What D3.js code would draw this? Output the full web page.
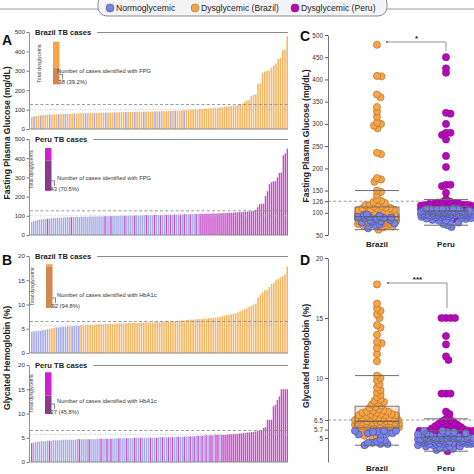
<!DOCTYPE html>
<html><head><meta charset="utf-8">
<script src="https://cdn.jsdelivr.net/npm/d3@7"></script>
<style>body{margin:0;background:#fff}svg{display:block;font-family:Arial,"Liberation Sans",sans-serif}</style>
</head><body><svg id="c" width="474" height="474"></svg>
<script>
// ---------------- DATA ----------------
const legendLabels = ["Normoglycemic", "Dysglycemic (Brazil)", "Dysglycemic (Peru)"];
const countryLabels = ["Brazil", "Peru"];

// Brazil fasting plasma glucose (mg/dL), sorted ascending
const brazilFPG = [62,65,67,69,70,71,72,73,74,75, 75,76,76,77,77,78,78,79,79,80,
  80,80,81,81,81,82,82,82,83,83, 83,84,84,84,85,85,85,86,86,86,
  87,87,87,88,88,88,88,89,89,89, 89,90,90,90,90,91,91,91,92,92,
  92,93,93,94,94,95,95,96,96,97, 97,98,99,100,101,102,103,104,105,106,
  107,108,109,110,111,112,114,115,117,118, 120,122,124,
  127,130,140,147,150,170,175,178,232,235,290,296,300,303,316,328,338,360,366,407,408,478];
const brazilFPGNormoIdx = [1,4,8,12,15,19,24,28,33,37,42,46,50,55,57,62,64,68];

// Peru fasting plasma glucose (mg/dL), sorted ascending
const peruFPG = [68,72,75,78,80,82,83,84,85,86, 87,88,89,90,90,91,91,92,92,93,
  93,93,94,94,94,95,95,95,95,96, 96,96,96,97,97,97,97,98,98,98,
  98,99,99,99,99,100,100,100,100,101, 101,101,101,102,102,102,102,103,103,103,
  103,103,104,104,104,104,105,105,105,105, 106,106,106,106,107,107,107,108,108,108,
  108,109,109,109,110,110,110,110,111,111, 111,112,112,112,113,113,114,114,115,115,
  116,116,117,118,118,119,120,120,121,122, 123,124,125,
  130,145,160,163,163,203,228,265,275,280,280,300,323,325,415,425,450];
const peruFPGDysIdxLow = [8,20,37,40,47,52,58,62,65,68,70,72,75,77,80,83]; // plus all from 85 on
const peruFPGDysFrom = 85;

// Brazil HbA1c (%), sorted ascending
const brazilA1c = [4.4,4.5,4.5,4.6,4.6,4.7,4.8,4.9,5.0,5.1,5.2,5.3,5.3,5.4,5.4,5.4,5.5,5.5,5.5,5.6,5.6,5.6,
  5.7,5.7,5.7,5.8,5.8,5.8,5.8,5.9,5.9,5.9, 5.9,6.0,6.0,6.0,6.0,6.0,6.1,6.1,6.1,6.1,
  6.1,6.2,6.2,6.2,6.2,6.2,6.2,6.3,6.3,6.3, 6.3,6.3,6.3,6.4,6.4,6.4,6.4,6.5,6.5,6.5,
  6.5,6.6,6.6,6.6,6.7,6.7,6.7,6.8,6.8,6.9, 6.9,6.9,7.0,7.0,7.0,7.1,7.1,7.2,7.2,7.3,
  7.3,7.4,7.5,7.6,7.7,7.8,7.9,8.0,8.1,8.2, 8.4,8.6,8.8,9.0,9.2,9.5,9.8,10.0,
  10.2,11.4,12.0,12.5,12.9,13.0,13.6,14.2,14.4,15.0,15.3,15.6,15.8,16.2,17.8];
const brazilA1cDysLowIdx = [8,9,10,17]; // dysglycemic with HbA1c < 5.7
const brazilA1cNormoCount = 22;

// Peru HbA1c (%), sorted ascending
const peruA1c = [3.9,4.0,4.1,4.2,4.2,4.3,4.3,4.3,4.4,4.4, 4.4,4.5,4.5,4.5,4.5,4.5,4.6,4.6,4.6,4.6,
  4.6,4.6,4.6,4.7,4.7,4.7,4.7,4.7,4.7,4.7, 4.7,4.7,4.7,4.8,4.8,4.8,4.8,4.8,4.8,4.8,
  4.8,4.8,4.9,4.9,4.9,4.9,4.9,4.9,4.9,4.9, 4.9,4.9,5.0,5.0,5.0,5.0,5.0,5.0,5.0,5.0,
  5.0,5.0,5.0,5.0,5.1,5.1,5.1,5.1,5.1,5.1, 5.1,5.1,5.2,5.2,5.2,5.2,5.2,5.2,5.3,5.3,
  5.3,5.3,5.3,5.4,5.4,5.4,5.4,5.5,5.5,5.5, 5.5,5.5,5.6,5.6,5.6,5.6,5.6,5.6,5.6,5.7,
  5.7,5.7,5.8,5.8,5.8,5.9,5.9,6.0,6.0,6.1, 6.1,6.2,6.2,6.3,6.4,6.5,
  6.6,7.0,7.2,8.7,8.7,8.7,11.5,11.8,12.8,13.5,15,15,15,15];
const peruA1cDysLowIdx = [0,9,24,29,35,38,40,44,48,52,55,60,63,66,69,71,74,77,80,82,84,86,88,90,91,93,94,96,97,98];
const peruA1cDysFrom = 99;

// Inset summary bars
const insetTotals = {brazil: 97, peru: 61};
const insetFPG = {brazil: [38, "38 (39.2%)"], peru: [43, "43 (70.5%)"]};
const insetA1c = {brazil: [92, "92 (94.8%)"], peru: [27, "27 (45.8%)"]};

const fpgTicks = [0,100,200,300,400,500];
const a1cTicks = [0,5,10,15,20];
const fpgTicksC = [50,100,126,150,200,250,300,350,400,450,500];
const a1cTicksD = [5,5.7,6.5,10,15,20];

// ---------------- COLOURS ----------------
const col = {
  normoBar: "#a6abe9", brazilBar: "#f6b867", peruBar: "#c94ccb",
  normoDot: "#7b84e2", normoStroke: "#3f47a6",
  brazilDot: "#f5a446", brazilStroke: "#b06c28",
  peruDot: "#b30cb6", peruStroke: "#8c008e",
  insetBzTop: "#f5a445", insetBzBot: "#d4864f",
  insetPeTop: "#d21fd4", insetPeBot: "#8a3b8c"
};

// ---------------- BUILD GROUP FLAGS ----------------
const bzFPGd = brazilFPG.map((v,i)=>({v, g: brazilFPGNormoIdx.includes(i) ? "n" : "b"}));
const peFPGd = peruFPG.map((v,i)=>({v, g: (i>=peruFPGDysFrom || peruFPGDysIdxLow.includes(i)) ? "p" : "n"}));
const bzA1cd = brazilA1c.map((v,i)=>({v, g: (i<brazilA1cNormoCount && !brazilA1cDysLowIdx.includes(i)) ? "n" : "b"}));
const peA1cd = peruA1c.map((v,i)=>({v, g: (i>=peruA1cDysFrom || peruA1cDysLowIdx.includes(i)) ? "p" : "n"}));

const svg = d3.select("#c");
const FONT = 'Arial,"Liberation Sans",sans-serif';

// ---------------- LEGEND ----------------
svg.append("line").attr("x1",0).attr("x2",98).attr("y1",9).attr("y2",9).attr("stroke","#9a9a9a").attr("stroke-width",1);
svg.append("line").attr("x1",387).attr("x2",474).attr("y1",9).attr("y2",9).attr("stroke","#9a9a9a").attr("stroke-width",1);
svg.append("rect").attr("x",98).attr("y",-6).attr("width",289).attr("height",22).attr("rx",9)
  .attr("fill","#f4f4f6").attr("stroke","#8a8a8a").attr("stroke-width",1);
const legItems = [
  {x:110, fill:col.normoDot, stroke:col.normoStroke},
  {x:195, fill:col.brazilDot, stroke:col.brazilStroke},
  {x:295, fill:col.peruDot, stroke:col.peruStroke}];
legItems.forEach((d,i)=>{
  svg.append("circle").attr("cx",d.x).attr("cy",8).attr("r",4).attr("fill",d.fill).attr("stroke",d.stroke).attr("stroke-width",0.6);
  svg.append("text").attr("x",d.x+6).attr("y",11).attr("font-size",8.6).attr("fill","#222").text(legendLabels[i]);
});

// ---------------- PANEL A/B BAR CHARTS ----------------
const barX0 = 30, barX1 = 288;
const subplots = [
  {data:bzFPGd, top:32, bottom:129, dom:[0,500], ticks:fpgTicks, title:"Brazil TB cases", th1:126, th2:100,
   ins:{x:53, lo:230, hi:450, total:insetTotals.brazil, id:insetFPG.brazil, top:col.insetBzTop, bot:col.insetBzBot}, lab:"Number of cases identified with FPG"},
  {data:peFPGd, top:139, bottom:235, dom:[0,500], ticks:fpgTicks, title:"Peru TB cases", th1:126, th2:100,
   ins:{x:45, lo:230, hi:453, total:insetTotals.peru, id:insetFPG.peru, top:col.insetPeTop, bot:col.insetPeBot}, lab:"Number of cases identified with FPG"},
  {data:bzA1cd, top:256, bottom:353, dom:[0,20], ticks:a1cTicks, title:"Brazil TB cases", th1:6.5, th2:5.7,
   ins:{x:46, lo:9.3, hi:18.3, total:insetTotals.brazil, id:insetA1c.brazil, top:col.insetBzTop, bot:col.insetBzBot}, lab:"Number of cases identified with HbA1c"},
  {data:peA1cd, top:365, bottom:462, dom:[0,20], ticks:a1cTicks, title:"Peru TB cases", th1:6.5, th2:5.7,
   ins:{x:45, lo:9.9, hi:18.5, total:insetTotals.peru, id:insetA1c.peru, top:col.insetPeTop, bot:col.insetPeBot}, lab:"Number of cases identified with HbA1c"}
];
const barColor = g => g==="n" ? col.normoBar : g==="b" ? col.brazilBar : col.peruBar;

subplots.forEach(sp=>{
  const g = svg.append("g");
  const y = d3.scaleLinear().domain(sp.dom).range([sp.bottom, sp.top]);
  const x = d3.scaleBand().domain(d3.range(sp.data.length)).range([barX0+1, barX1]).paddingInner(0.28);
  g.selectAll("rect.bar").data(sp.data).join("rect").attr("class","bar")
    .attr("x",(d,i)=>x(i)).attr("width",x.bandwidth())
    .attr("y",d=>y(d.v)).attr("height",d=>y(sp.dom[0])-y(d.v))
    .attr("fill",d=>barColor(d.g));
  g.append("line").attr("x1",barX0).attr("x2",barX1).attr("y1",y(sp.th1)).attr("y2",y(sp.th1))
    .attr("stroke","#8d8d8d").attr("stroke-width",0.9).attr("stroke-dasharray","3,2.2");
  g.append("line").attr("x1",barX0).attr("x2",barX1).attr("y1",y(sp.th2)).attr("y2",y(sp.th2))
    .attr("stroke","#b5b5b5").attr("stroke-width",0.8).attr("stroke-dasharray","1,1.5");
  g.append("line").attr("x1",barX0).attr("x2",barX1).attr("y1",y(0)).attr("y2",y(0)).attr("stroke","#8a8a8a").attr("stroke-width",1);
  const ax = g.append("g").attr("transform",`translate(${barX0-1},0)`)
    .call(d3.axisLeft(y).tickValues(sp.ticks).tickSize(2.5).tickSizeOuter(0).tickPadding(1.5));
  ax.select(".domain").attr("stroke","#777").attr("stroke-width",0.8);
  ax.selectAll(".tick line").attr("stroke","#555").attr("stroke-width",0.8);
  ax.selectAll("text").attr("font-size",6.2).attr("fill","#333").attr("font-family",FONT);
  const t = g.append("text").attr("x",35).attr("y",sp.top+3).attr("font-size",7.6).attr("font-weight","bold")
    .attr("fill","#222").text(sp.title);
  const tw = t.node().getComputedTextLength();
  g.append("line").attr("x1",35+tw+6).attr("x2",barX1).attr("y1",sp.top+0.5).attr("y2",sp.top+0.5)
    .attr("stroke","#8a8a8a").attr("stroke-width",1);
  const ins = sp.ins;
  const iy = d3.scaleLinear().domain([0, ins.total]).range([y(ins.lo), y(ins.hi)]);
  const w = 6.5;
  g.append("rect").attr("x",ins.x).attr("width",w).attr("y",iy(ins.total)).attr("height",iy(ins.id[0])-iy(ins.total)).attr("fill",ins.top);
  g.append("rect").attr("x",ins.x).attr("width",w).attr("y",iy(ins.id[0])).attr("height",iy(0)-iy(ins.id[0])).attr("fill",ins.bot);
  const yb = iy(0);
  g.append("text").attr("transform",`translate(${ins.x-12},${(iy(0)+iy(ins.total))/2}) rotate(-90)`)
    .attr("text-anchor","middle").attr("font-size",5).attr("fill","#444").text("Total dysglycemic");
  g.append("text").attr("x",57).attr("y",yb-11).attr("font-size",5.8).attr("fill","#333").text(sp.lab);
  g.append("path").attr("d",`M${ins.x+w},${yb-10}h3v5`).attr("fill","none").attr("stroke","#333").attr("stroke-width",0.6);
  g.append("text").attr("x",ins.x+w-1).attr("y",yb).attr("font-size",5.8).attr("fill","#333").text(ins.id[1]);
});

[["A",2,45],["B",2,265],["C",300,41],["D",300,265]].forEach(d=>{
  svg.append("text").attr("x",d[1]).attr("y",d[2]).attr("font-size",14).attr("font-weight","bold").attr("fill","#111").text(d[0]);
});
function vTitle(x,y,txt){
  svg.append("text").attr("transform",`translate(${x},${y}) rotate(-90)`).attr("text-anchor","middle")
    .attr("font-size",8.6).attr("font-weight","bold").attr("fill","#222").text(txt);
}
vTitle(10,133,"Fasting Plasma Glucose (mg/dL)");
vTitle(10,358,"Glycated Hemoglobin (%)");
vTitle(309,136,"Fasting Plasma Glucose (mg/dL)");
vTitle(309,356,"Glycated Hemoglobin (%)");

// ---------------- PANEL C/D SCATTERS ----------------
// bounded swarm: place each point as close to the centre as possible, within +-maxW
function swarm(data, y, cx, spacing, maxW){
  const nodes = data.map(d=>({...d, y:y(d.v)}));
  const order = nodes.slice().sort((a,b)=>a.y-b.y);
  const placed = [];
  const cands = [];
  for(let k=0;k<=maxW*4;k++){ const off=(k%2?1:-1)*Math.ceil(k/2)*0.5; if(Math.abs(off)<=maxW) cands.push(off); }
  for(const n of order){
    let best = null, bestD = -1;
    for(const off of cands){
      const tx = cx+off;
      let md = Infinity;
      for(const p of placed){ const dx=p.x-tx, dy=p.y-n.y; const d2=dx*dx+dy*dy; if(d2<md) md=d2; }
      if(md>=spacing*spacing){ best=tx; break; }
      if(md>bestD){ bestD=md; best=tx; }
    }
    n.x = best; placed.push(n);
  }
  return nodes;
}
const dotFill = g => g==="n"?col.normoDot:g==="b"?col.brazilDot:col.peruDot;
const dotStroke = g => g==="n"?col.normoStroke:g==="b"?col.brazilStroke:col.peruStroke;

function scatterPanel(opt){
  const g = svg.append("g");
  const y = d3.scaleLinear().domain(opt.dom).range(opt.range);
  const xc = d3.scalePoint().domain(countryLabels).range([377,446]);
  g.append("line").attr("x1",328).attr("x2",474).attr("y1",y(opt.th)).attr("y2",y(opt.th))
    .attr("stroke","#8d8d8d").attr("stroke-width",0.9).attr("stroke-dasharray","3,2.2");
  const groups = [[countryLabels[0], opt.bz, "#f6dccb", opt.w[0]],[countryLabels[1], opt.pe, "#eeeaee", opt.w[1]]];
  groups.forEach(([name, data, boxFill, maxW])=>{
    const vals = data.map(d=>d.v).sort(d3.ascending);
    const q1 = d3.quantile(vals,0.25), q3 = d3.quantile(vals,0.75), med = d3.quantile(vals,0.5);
    const iqr = q3-q1;
    const hiW = d3.max(vals.filter(v=>v<=q3+1.5*iqr)), loW = d3.min(vals.filter(v=>v>=q1-1.5*iqr));
    const cx = xc(name), bw = 44;
    g.append("rect").attr("x",cx-bw/2).attr("width",bw).attr("y",y(q3)).attr("height",y(q1)-y(q3))
      .attr("fill",boxFill).attr("fill-opacity",0.85);
    const nodes = swarm(data, y, cx, 4.2, maxW);
    const ordered = nodes.filter(d=>d.g!=="n").concat(nodes.filter(d=>d.g==="n"));
    g.selectAll(null).data(ordered).join("circle")
      .attr("cx",d=>d.x).attr("cy",d=>d.y).attr("r",3.6)
      .attr("fill",d=>dotFill(d.g)).attr("stroke",d=>dotStroke(d.g)).attr("stroke-width",0.6);
    g.append("rect").attr("x",cx-bw/2).attr("width",bw).attr("y",y(q3)).attr("height",y(q1)-y(q3))
      .attr("fill","none").attr("stroke","#6d6d6d").attr("stroke-width",0.9);
    g.append("line").attr("x1",cx-bw/2).attr("x2",cx+bw/2).attr("y1",y(med)).attr("y2",y(med)).attr("stroke","#555").attr("stroke-width",1.1);
    [hiW,loW].forEach(v=>g.append("line").attr("x1",cx-bw/2).attr("x2",cx+bw/2).attr("y1",y(v)).attr("y2",y(v)).attr("stroke","#6d6d6d").attr("stroke-width",1));
    g.append("text").attr("x",cx).attr("y",opt.labY).attr("text-anchor","middle").attr("font-size",8).attr("font-weight","bold").attr("fill","#222").text(name);
  });
  const ax = g.append("g").attr("transform","translate(328,0)")
    .call(d3.axisLeft(y).tickValues(opt.ticks).tickSize(3).tickSizeOuter(0).tickPadding(2).tickFormat(d=>d));
  ax.select(".domain").attr("stroke","#666").attr("stroke-width",0.9);
  ax.selectAll(".tick line").attr("stroke","#555");
  ax.selectAll("text").attr("font-size",6.4).attr("fill","#333").attr("font-family",FONT);
  g.append("path").attr("d",`M${opt.br[0]},${opt.br[2]}H${opt.br[1]}V${opt.br[3]}`).attr("fill","none").attr("stroke","#777").attr("stroke-width",0.8);
  g.append("circle").attr("cx",opt.br[0]).attr("cy",opt.br[2]).attr("r",0.9).attr("fill","#555");
  g.append("text").attr("x",(opt.br[0]+opt.br[1])/2).attr("y",opt.br[2]-1).attr("text-anchor","middle").attr("font-size",8).attr("font-weight","bold").attr("fill","#222").text(opt.star);
}
scatterPanel({bz:bzFPGd, pe:peFPGd, dom:[50,500], range:[235,35], th:126, ticks:fpgTicksC, labY:247, br:[387,446,42,51], star:"*", w:[19,25]});
scatterPanel({bz:bzA1cd, pe:peA1cd, dom:[3,20], range:[462,258], th:6.5, ticks:a1cTicksD, labY:471, br:[388,447,283,308], star:"***", w:[22,28]});
</script></body></html>
